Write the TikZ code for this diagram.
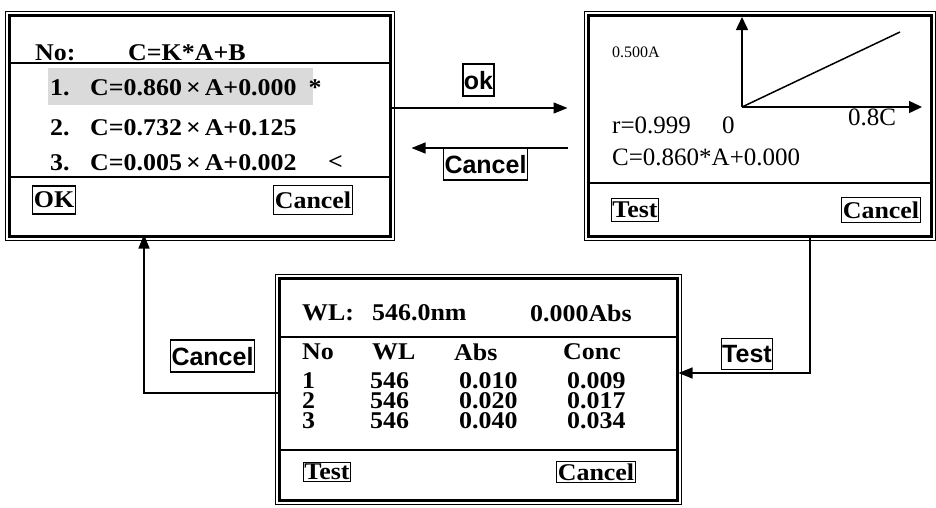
\documentclass[tikz,border=0pt]{standalone}
\usepackage{fontspec}
\setmainfont{Liberation Serif}
\setsansfont{Liberation Sans}
\newfontfamily\scrfont[FakeStretch=1.08]{Liberation Serif}
\usepackage{tikz}
\usetikzlibrary{arrows.meta}
\definecolor{satirGri}{HTML}{DADADA}

\begin{document}
\begin{tikzpicture}[x=1pt,y=-1pt,
  scr/.style={draw,line width=3pt,inner sep=0pt},
  txt/.style={anchor=west,inner sep=0pt,font=\fontsize{24}{24}\scrfont\bfseries},
  gtxt/.style={anchor=west,inner sep=0pt,font=\fontsize{25}{25}\selectfont},
  btn/.style={draw,line width=1.2pt,inner xsep=1pt,text depth=0pt,font=\fontsize{24}{24}\scrfont\bfseries},
  tag/.style={draw,line width=1.2pt,inner xsep=1pt,inner ysep=7pt,text depth=0pt,font=\fontsize{25}{25}\selectfont\sffamily\bfseries},
  flow/.style={line width=1.3pt,-{Triangle[length=14pt,width=11pt]}},
  axis/.style={line width=1.5pt,-{Triangle[length=13pt,width=12pt]}},
  divider/.style={line width=1.2pt}]
\useasboundingbox (0,0) rectangle (936,507);
% 1) Calibration list
\node[scr,minimum width=381pt,minimum height=221pt] (calib) at (199.5,125.5) {};
\fill[satirGri] (48,68) rectangle (313,105);
\draw[divider] (calib.west |- 0,63) -- (calib.east |- 0,63);
\draw[divider] (calib.west |- 0,177) -- (calib.east |- 0,177);
\node[txt] (hNo) at (35,53) {No:};
\node[txt] (hEq) at (128,53) {C=K*A+B};
\node[txt] (r1) at (50,88) {1.};
\node[txt] (e1) at (90,88) {C=0.860\,×\,A+0.000\enspace*};
\node[txt] (r2) at (50,128) {2.};
\node[txt] (e2) at (90,128) {C=0.732\,×\,A+0.125};
\node[txt] (r3) at (50,163) {3.};
\node[txt] (e3) at (90,163) {C=0.005\,×\,A+0.002};
\node[txt] (sel) at (328,163) {<};
\node[btn,inner ysep=6pt] (okB) at (54,200) {OK};
\node[btn,inner ysep=6pt] (cancelA) at (313,200) {Cancel};
% 2) Curve
\node[scr,minimum width=343pt,minimum height=221pt] (curve) at (759.5,125.5) {};
\draw[divider] (curve.west |- 0,183) -- (curve.east |- 0,183);
\coordinate (org) at (742,107);
\draw[axis] (org) -- ++(0,-90);
\draw[axis] (org) -- ++(180,0);
\draw[line width=1.5pt] (org) -- (900,32);
\node[gtxt,font=\fontsize{16}{16}\selectfont] (amax) at (612,52) {0.500A};
\node[gtxt] (rv) at (612,125) {r=0.999};
\node[gtxt] (x0) at (722,125) {0};
\node[gtxt] (xmax) at (848,117) {0.8C};
\node[gtxt] (eq) at (612,157) {C=0.860*A+0.000};
\node[btn,inner ysep=4pt] (testA) at (635,210) {Test};
\node[btn,inner ysep=4pt] (cancelB) at (881,210) {Cancel};
% 3) Measurement table
\node[scr,minimum width=398pt,minimum height=222pt] (meas) at (478,389) {};
\draw[divider] (meas.west |- 0,337) -- (meas.east |- 0,337);
\draw[divider] (meas.west |- 0,450) -- (meas.east |- 0,450);
\node[txt] (wl) at (302,313) {WL:};
\node[txt] (wlv) at (372,313) {546.0nm};
\node[txt] (abs) at (530,313) {0.000Abs};
\node[txt] (cNo) at (302,352) {No};
\node[txt] (cWl) at (372,352) {WL};
\node[txt] (cAbs) at (454,352) {Abs};
\node[txt] (cConc) at (563,352) {Conc};
\node[txt] (n1) at (302,381) {1};
\node[txt] (w1) at (370,381) {546};
\node[txt] (a1) at (459,381) {0.010};
\node[txt] (k1) at (567,381) {0.009};
\node[txt] (n2) at (302,401) {2};
\node[txt] (w2) at (370,401) {546};
\node[txt] (a2) at (459,401) {0.020};
\node[txt] (k2) at (567,401) {0.017};
\node[txt] (n3) at (302,421) {3};
\node[txt] (w3) at (370,421) {546};
\node[txt] (a3) at (459,421) {0.040};
\node[txt] (k3) at (567,421) {0.034};
\node[btn,inner ysep=2pt] (testB) at (327,472) {Test};
\node[btn,inner ysep=2pt] (cancelC) at (596,472) {Cancel};
% outer thin frames
\foreach \s in {calib,curve,meas}
  \draw[line width=1pt] ([shift={(-2.5,-2.5)}]\s.north west) rectangle ([shift={(2.5,2.5)}]\s.south east);
% 4) Connectors
\draw[flow,shorten >=19pt] (calib.east |- 0,108) -- (curve.west |- 0,108);
\draw[flow,shorten <=19pt,shorten >=20pt] (curve.west |- 0,148) -- (calib.east |- 0,148);
\draw[flow] (curve.south -| 810,0) |- (meas.east |- 0,373);
\draw[flow,shorten >=-3pt] (meas.west |- 0,393) -| (calib.south -| 144,0);
\node[tag] (tOk) at (478.5,80) {ok};
\node[tag] (tCancelA) at (485.5,164) {Cancel};
\node[tag] (tCancelB) at (212.5,356) {Cancel};
\node[tag] (tTest) at (747,354) {Test};
\end{tikzpicture}
\end{document}
